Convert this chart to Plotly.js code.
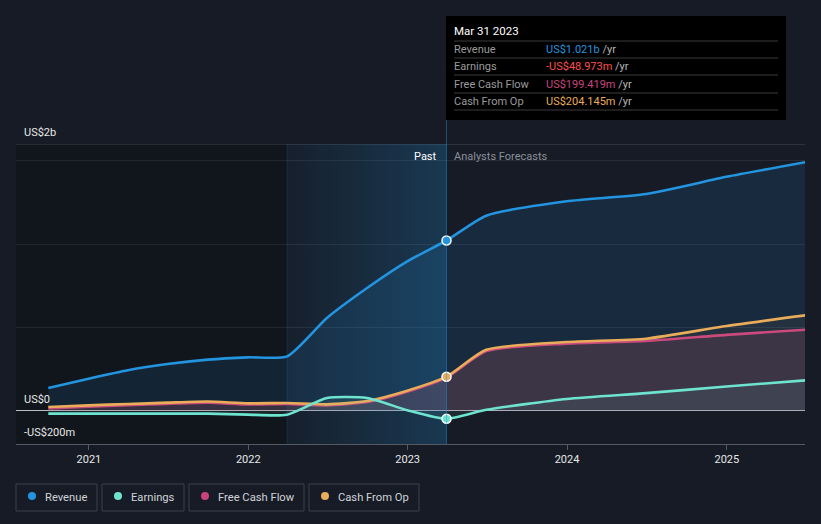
<!DOCTYPE html>
<html>
<head>
<meta charset="utf-8">
<script src="https://cdn.plot.ly/plotly-3.0.1.min.js"></script>
<style>
  html, body { margin:0; padding:0; background:#161b25; }
  #chart { width:821px; height:524px; }
</style>
</head>
<body>
<div id="chart"></div>
<script>
// ---- data (US$ millions) ----
const dates = ['2020-09-30','2020-12-31','2021-03-31','2021-06-30','2021-09-30','2021-12-31',
               '2022-03-31','2022-06-30','2022-09-30','2022-12-31','2023-03-31',
               '2023-06-30','2023-12-31','2024-06-30','2024-12-31','2025-06-30'];
const revenue  = [136,192,243,280,306,320,326,556,736,896,1021,1170,1256,1300,1403,1491];
const earnings = [-18,-18,-18,-18,-18,-24,-24,76,76,3,-49,5,70,105,145,182];
const fcf      = [14,24,33,41,48,37,40,32,52,114,199,358,402,418,455,486];
const cfo      = [22,32,40,48,55,44,46,38,58,120,204,365,412,432,508,572];

const yearTicks = ['2021-01-01','2022-01-01','2023-01-01','2024-01-01','2025-01-01'];
const yearLabels = ['2021','2022','2023','2024','2025'];

const pastStart = '2022-03-31';
const pastEnd = '2023-03-31';
const xRange = ['2020-07-18','2025-06-29'];
const yRange = [-200,1600];
const gridVals = [0,500,1000,1500];

const tipDate = 'Mar 31 2023';
const tipLabels = ['Revenue','Earnings','Free Cash Flow','Cash From Op'];
const tipValues = ['US$1.021b','-US$48.973m','US$199.419m','US$204.145m'];
const legendLabels = ['Revenue','Earnings','Free Cash Flow','Cash From Op'];

// ---- style ----
const C = {rev:'#2394df', earn:'#6ee3cf', fcf:'#c9447f', cfo:'#e9ac5a', earnTip:'#ff4d4d'};
const FONT = 'Roboto, "Open Sans", sans-serif';
const W = 821, H = 524, ML = 16, MR = 16, MT = 144, MB = 80;
const PW = W - ML - MR, PH = H - MT - MB;
const px = x => (x - ML) / PW;
const py = y => (H - MB - y) / PH;

const line = (name, y, color, fill) => ({
  type:'scatter', mode:'lines', name, x:dates, y,
  line:{color, width:2.6, shape:'spline', smoothing:0.6},
  fill:'tozeroy', fillcolor:fill, hoverinfo:'skip'
});

const iTip = dates.indexOf(pastEnd);

const traces = [
  { type:'scatter', mode:'lines', x:[pastStart,pastEnd,pastEnd,pastStart,pastStart],
    y:[yRange[0],yRange[0],yRange[1],yRange[1],yRange[0]], fill:'toself',
    line:{width:0, color:'rgba(0,0,0,0)'},
    fillgradient:{type:'horizontal', colorscale:[[0,'rgba(35,148,223,0.04)'],[1,'rgba(35,148,223,0.24)']]},
    hoverinfo:'skip', showlegend:false },
  line('Revenue', revenue, C.rev, 'rgba(35,148,223,0.13)'),
  line('Free Cash Flow', fcf, C.fcf, 'rgba(201,68,127,0.14)'),
  line('Cash From Op', cfo, C.cfo, 'rgba(233,172,90,0.06)'),
  line('Earnings', earnings, C.earn, 'rgba(110,227,207,0.08)'),
  { type:'scatter', mode:'markers', x:[pastEnd,pastEnd,pastEnd],
    y:[revenue[iTip], cfo[iTip], earnings[iTip]],
    marker:{size:9, color:[C.rev, C.cfo, C.earn], line:{color:'#ffffff', width:1.5}},
    hoverinfo:'skip', showlegend:false }
];

const shapes = [
  // darker history region
  {type:'rect', layer:'below', xref:'x', yref:'paper', x0:xRange[0], x1:pastStart, y0:0, y1:1,
   fillcolor:'#11151c', line:{width:0}},
  // top border line
  {type:'line', layer:'below', xref:'paper', yref:'y', x0:0, x1:1, y0:yRange[1], y1:yRange[1],
   line:{color:'rgba(255,255,255,0.2)', width:1}},
  // past start boundary
  {type:'line', xref:'x', yref:'paper', x0:pastStart, x1:pastStart, y0:0, y1:1,
   line:{color:'rgba(35,148,223,0.18)', width:1}},
  // tooltip vertical line
  {type:'line', xref:'x', yref:'paper', x0:pastEnd, x1:pastEnd, y0:0, y1:py(96),
   line:{color:'rgba(35,148,223,0.45)', width:1}},
  // tooltip box
  {type:'rect', xref:'paper', yref:'paper', x0:px(446), x1:px(786), y0:py(120), y1:py(16),
   fillcolor:'#000000', line:{width:0}}
];

const annotations = [];
const ann = (text, x, y, color, size, anchor) => annotations.push({
  text, xref:'paper', yref:'paper', x:px(x), y:py(y), xanchor:anchor||'left', yanchor:'middle',
  showarrow:false, font:{family:FONT, size:size||11, color}
});

// y labels
ann('US$2b', 22, 132, '#e8e8e8', 11);
ann('US$0', 22, 399, '#e8e8e8', 11);
ann('-US$200m', 22, 432, '#e8e8e8', 11);
// past / forecast
ann('Past', 446-7, 156, '#ffffff', 11, 'right');
ann('Analysts Forecasts', 452, 156, '#8b9099', 11);

// tooltip content
ann(tipDate, 452, 31, '#ffffff', 11.5);
const rowY = [49, 66, 84, 101];
const sepY = [41, 58, 75, 93, 110];
sepY.forEach(y => shapes.push({type:'line', xref:'paper', yref:'paper', x0:px(454), x1:px(778),
  y0:py(y), y1:py(y), line:{color:'#3a3a3a', width:1}}));
const tipColors = [C.rev, C.earnTip, C.fcf, C.cfo];
tipLabels.forEach((l, i) => {
  ann(l, 452, rowY[i], '#9a9a9a', 11);
  ann('<span style="color:' + tipColors[i] + '">' + tipValues[i] + '</span> <span style="color:#b8b8b8">/yr</span>',
      544, rowY[i], '#ffffff', 11);
});

// legend
const legBoxes = [[16,97],[102,184],[189,304],[309,419]];
const legColors = [C.rev, C.earn, C.fcf, C.cfo];
legendLabels.forEach((l, i) => {
  const [a, b] = legBoxes[i];
  shapes.push({type:'rect', xref:'paper', yref:'paper', x0:px(a), x1:px(b), y0:py(511), y1:py(484),
    line:{color:'#3a404a', width:1}, fillcolor:'rgba(0,0,0,0)'});
  shapes.push({type:'circle', xref:'paper', yref:'paper', x0:px(a+12), x1:px(a+20), y0:py(500), y1:py(492),
    fillcolor:legColors[i], line:{width:0}});
  ann(l, a+27, 497, '#d0d3d8', 11.2);
});

const layout = {
  width:W, height:H,
  margin:{l:ML, r:MR, t:MT, b:MB},
  paper_bgcolor:'#161b25', plot_bgcolor:'#161b25',
  showlegend:false, hovermode:false,
  font:{family:FONT, color:'#e8e8e8'},
  xaxis:{type:'date', range:xRange, tickvals:yearTicks, ticktext:yearLabels,
    ticks:'outside', ticklen:5, tickcolor:'#545a63', showline:true, linecolor:'#545a63', linewidth:1,
    showgrid:false, zeroline:false, tickfont:{family:FONT, size:11, color:'#e8e8e8'}, fixedrange:true},
  yaxis:{range:yRange, tickvals:gridVals, showticklabels:false, showgrid:true,
    gridcolor:'rgba(255,255,255,0.08)', gridwidth:1, zeroline:true, zerolinecolor:'#b9bcc2', zerolinewidth:1,
    showline:false, fixedrange:true},
  shapes, annotations
};

Plotly.newPlot('chart', traces, layout, {displayModeBar:false, staticPlot:true});
</script>
</body>
</html>
